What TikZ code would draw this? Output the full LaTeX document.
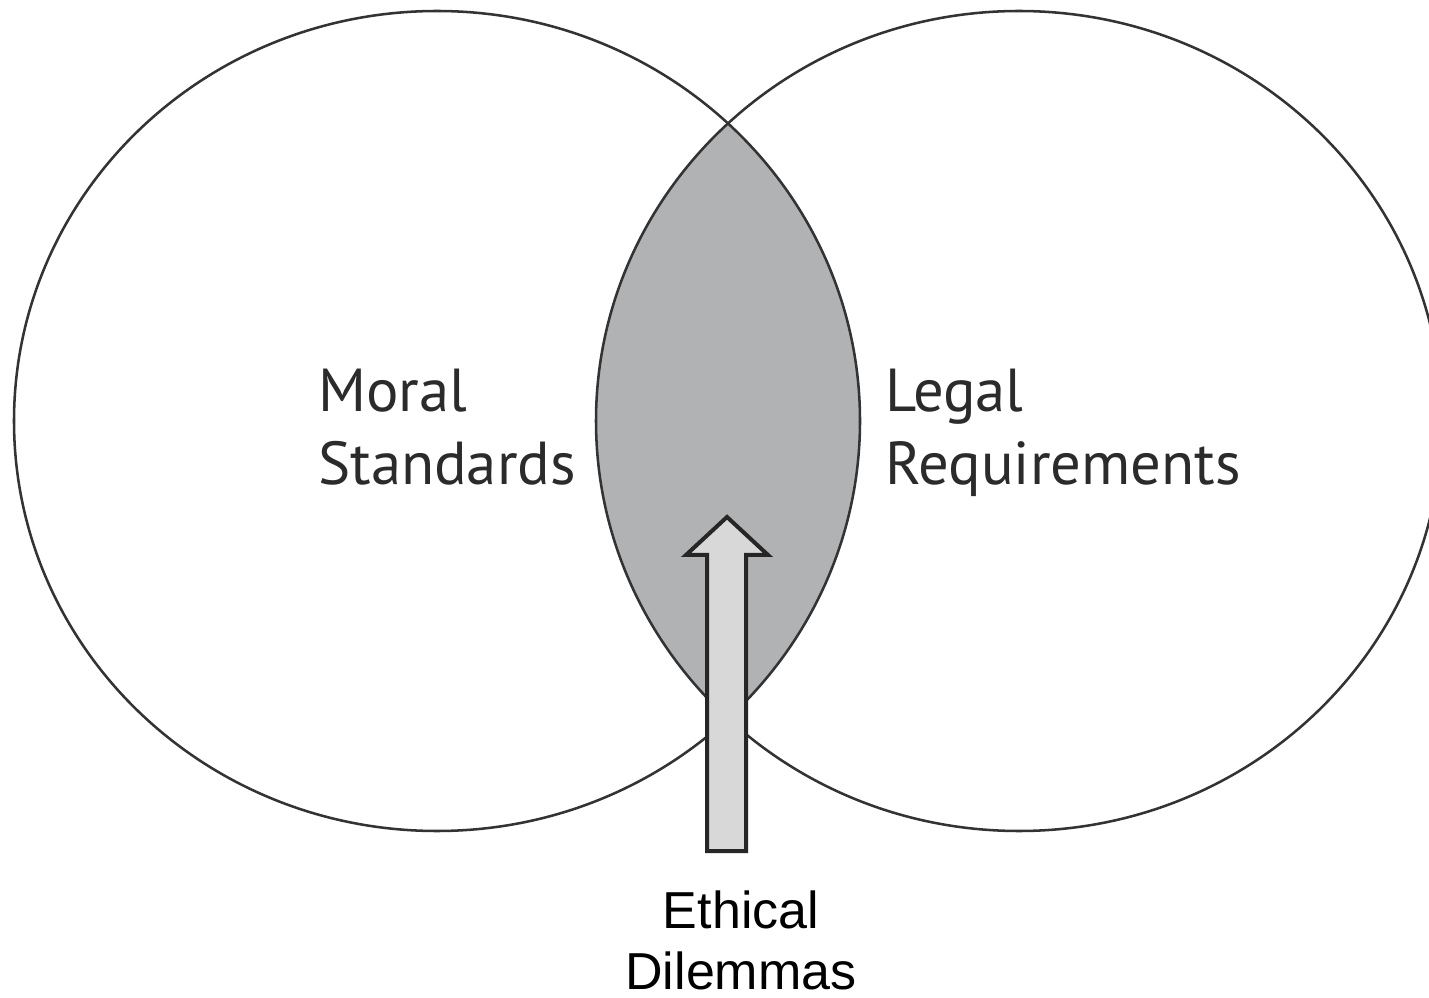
\documentclass[tikz,border=0pt]{standalone}
\usepackage{fontspec}
\setmainfont{Liberation Sans}
\newfontfamily\labelfont{PT Sans}
\definecolor{linec}{HTML}{333333}
\definecolor{textc}{HTML}{2B2B2B}
\definecolor{lensc}{HTML}{B1B2B4}
\definecolor{arrowf}{HTML}{D8D8D8}
\definecolor{arrowd}{HTML}{262626}
\begin{document}
\begin{tikzpicture}[x=0.75pt,y=-0.75pt,
  venn/.style={draw=linec,line width=1.9pt},
  biglabel/.style={anchor=base west,inner sep=0pt,text=textc,font=\labelfont\fontsize{45.5}{52}\selectfont},
  footlabel/.style={anchor=base,inner sep=0pt,text=black,font=\fontsize{39}{46}\selectfont},
  blockarrow/.style={draw=arrowd,fill=arrowf,line width=3pt,line join=miter}]
\useasboundingbox (0,0) rectangle (1429,998);
\fill[white] (0,0) rectangle (1429,998);
\begin{scope}
  \clip (437,421) ellipse [x radius=423, y radius=410];
  \fill[lensc] (1019,421) ellipse [x radius=423, y radius=410];
\end{scope}
\draw[venn] (437,421) ellipse [x radius=423, y radius=410];
\draw[venn] (1019,421) ellipse [x radius=423, y radius=410];
\node[biglabel] (moral) at (318,412) {Moral};
\node[biglabel] (standards) at (318,485) {Standards};
\node[biglabel] (legal) at (885,412) {Legal};
\node[biglabel] (requirements) at (885,485) {Requirements};
\node[footlabel] (ethical) at (741,928) {Ethical};
\node[footlabel] (dilemmas) at (741,989) {Dilemmas};
\coordinate (tip) at (727,517);
\draw[blockarrow] (707,851) -- (707,555) -- (686,555) -- (tip) -- (768,555) -- (746,555) -- (746,851) -- cycle;
\end{tikzpicture}
\end{document}
